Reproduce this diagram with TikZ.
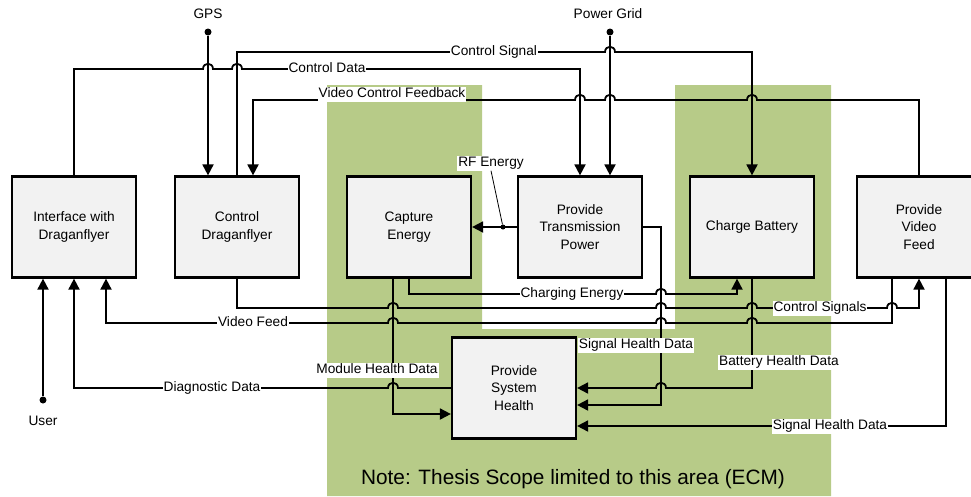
\documentclass[tikz,border=0pt]{standalone}
\usepackage{fontspec}
\setmainfont{Liberation Sans}
\usetikzlibrary{arrows.meta}
\definecolor{scopegreen}{RGB}{183,203,136}
\definecolor{boxgray}{RGB}{242,242,242}
\newcommand\lblfont{\fontsize{13.7}{16}\selectfont}
\newcommand\boxfont{\fontsize{13.7}{17.5}\selectfont}
\newcommand\notefont{\fontsize{20.8}{24}\selectfont}
\tikzset{
  box/.style={draw, line width=2.2pt, fill=boxgray, minimum width=124pt, minimum height=101pt, align=center, font=\boxfont, inner sep=0pt},
  conn/.style={line width=1.8pt, line join=miter},
  arr/.style={conn, -{Triangle[length=11pt,width=11pt]}},
  lbl/.style={fill=white, inner sep=1pt, font=\lblfont, text height=10pt, text depth=3pt},
  plain/.style={font=\lblfont, inner sep=1pt},
  dot/.style={circle, fill=black, inner sep=0pt, minimum size=7pt},
}
\begin{document}
\begin{tikzpicture}[x=1pt,y=-1pt]
\useasboundingbox (0,0) rectangle (971,496);
% scope area
\fill[scopegreen] (327,85) -- (482,85) -- (482,329) -- (675,329) -- (675,85) -- (831,85) -- (831,496) -- (327,496) -- cycle;
% boxes
\node[box] (iface) at (74,227) {Interface with\\Draganflyer};
\node[box] (ctrl) at (237,227) {Control\\Draganflyer};
\node[box] (cap) at (409,227) {Capture\\Energy};
\node[box] (pwr) at (580,227) {Provide\\Transmission\\Power};
\node[box] (batt) at (752,227) {Charge Battery};
\node[box] (vid) at (919,227) {Provide\\Video\\Feed};
\node[box] (sys) at (514,388) {Provide\\System\\Health};
% terminals
\node[dot] (gpsdot) at (208,32) {};
\node[plain] (gpsl) at (208,14) {GPS};
\node[dot] (pgdot) at (610,32) {};
\node[plain] (pgl) at (608,14) {Power Grid};
\node[dot] (userdot) at (43,400) {};
\node[plain] (userl) at (43,421) {User};
\draw[arr] (gpsdot) -- (gpsdot |- ctrl.north);
\draw[arr] (pgdot) -- (pgdot |- pwr.north);
\draw[arr] (userdot) -- (userdot |- iface.south);
% Control Data
\draw[arr] (iface.north) -- (74,69) -- (203,69) .. controls (203,62) and (213,62) .. (213,69) -- (232,69) .. controls (232,62) and (242,62) .. (242,69) -- (580,69) -- (pwr.north);
% Control Signal
\draw[arr] (ctrl.north) -- (237,52) -- (605,52) .. controls (605,45) and (615,45) .. (615,52) -- (752,52) -- (batt.north);
% Video Control Feedback
\draw[arr] (vid.north) -- (919,100) -- (757,100) .. controls (757,93) and (747,93) .. (747,100) -- (615,100) .. controls (615,93) and (605,93) .. (605,100) -- (585,100) .. controls (585,93) and (575,93) .. (575,100) -- (253,100) coordinate (vcf) -- (vcf |- ctrl.north);
% RF Energy
\draw[arr] (pwr.west) -- (cap.east);
\node[dot, minimum size=5pt] (rfdot) at (503,227) {};
% Charging Energy
\draw[arr] (cap.south) -- (409,294) -- (656,294) .. controls (656,287) and (666,287) .. (666,294) -- (737,294) coordinate (ce) -- (ce |- batt.south);
% Module Health Data
\draw[arr] (cap.south) ++(-16,0) -- (393,414) coordinate (mh) -- (mh -| sys.west);
% Diagnostic Data
\draw[arr] (sys.west) -- (398,388) .. controls (398,381) and (388,381) .. (388,388) -- (74,388) coordinate (dd) -- (dd |- iface.south);
% Signal Health Data (transmission)
\draw[arr] (pwr.east) -- (661,227) -- (661,405) coordinate (sh) -- (sh -| sys.east);
% Battery Health Data
\draw[arr] (batt.south) -- (752,388) -- (666,388) .. controls (666,381) and (656,381) .. (656,388) -- (sys.east);
% Signal Health Data (video)
\draw[arr] (vid.south) ++(27,0) -- (946,426) coordinate (sl) -- (sl -| sys.east);
% Control Signals
\draw[arr] (ctrl.south) -- (237,308) -- (388,308) .. controls (388,301) and (398,301) .. (398,308) -- (656,308) .. controls (656,301) and (666,301) .. (666,308) -- (747,308) .. controls (747,301) and (757,301) .. (757,308) -- (887,308) .. controls (887,301) and (897,301) .. (897,308) -- (919,308) -- (vid.south);
% Video Feed
\draw[arr] (vid.south) ++(-27,0) -- (892,323) -- (757,323) .. controls (757,316) and (747,316) .. (747,323) -- (666,323) .. controls (666,316) and (656,316) .. (656,323) -- (398,323) .. controls (398,316) and (388,316) .. (388,323) -- (106,323) coordinate (vf) -- (vf |- iface.south);
% labels
\node[lbl] (l1) at (494,52) {Control Signal};
\node[lbl] (l2) at (327,69) {Control Data};
\node[lbl] (l3) at (392,94) {Video Control Feedback};
\node[lbl] (rfl) at (491,163) {RF Energy};
\draw[line width=0.8pt] (rfl.south) -- (rfdot);
\node[lbl] (l4) at (572,294) {Charging Energy};
\node[lbl] (l5) at (253,323) {Video Feed};
\node[lbl] (l6) at (212,388) {Diagnostic Data};
\node[lbl] (l7) at (377,370) {Module Health Data};
\node[lbl] (l8) at (636,345) {Signal Health Data};
\node[lbl] (l9) at (779,362) {Battery Health Data};
\node[lbl] (l10) at (820,308) {Control Signals};
\node[lbl] (l11) at (830,426) {Signal Health Data};
\node[font=\notefont, inner sep=0pt] (note) at (573,479) {Note: Thesis Scope limited to this area (ECM)};
\end{tikzpicture}
\end{document}
